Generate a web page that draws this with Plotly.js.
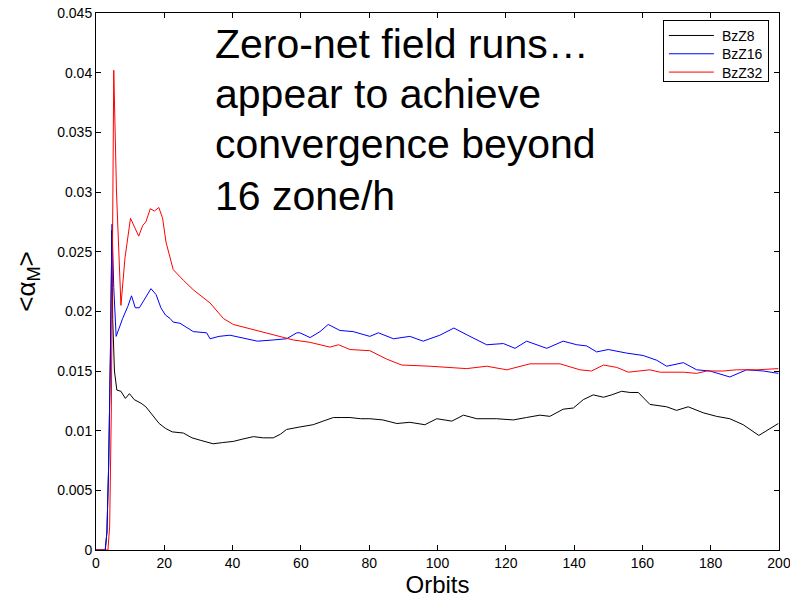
<!DOCTYPE html>
<html>
<head>
<meta charset="utf-8">
<script src="https://cdn.plot.ly/plotly-3.0.1.min.js"></script>
<style>
  html, body { margin: 0; padding: 0; background: #fff; }
  #chart { width: 790px; height: 602px; }
</style>
</head>
<body>
<div id="chart"></div>
<script>
// Volume-averaged Maxwell stress <alpha_M> vs. time (orbits) for three resolutions.
const seriesNames = ['BzZ8', 'BzZ16', 'BzZ32'];
const seriesColors = ['#000000', '#0000ff', '#ff0000'];

const bzz8Orbits = [0, 2.7, 3.2, 3.7, 4.2, 4.65, 4.9, 5.4, 6.1, 7.3, 8.6, 9.8, 11.2, 13.2, 14.6, 16.6, 18.5, 20.3, 22.3, 25.6, 28.1, 30.5, 34.3, 37.0, 40.2, 43.0, 46.1, 49.0, 51.9, 54.0, 55.8, 59.5, 63.6, 66.5, 69.5, 72.0, 74.4, 77.5, 80.2, 84.0, 88.1, 91.9, 96.3, 99.8, 104.2, 107.6, 111.5, 117.3, 122.2, 126.0, 130.0, 132.9, 136.8, 139.8, 142.7, 145.6, 148.6, 151.0, 153.9, 156.4, 158.8, 162.2, 167.1, 170.0, 173.4, 177.8, 181.7, 185.6, 189.5, 194.1, 197.4, 199.8];
const bzz8Alpha = [0, 0, 0.0015, 0.007, 0.016, 0.0268, 0.0193, 0.015, 0.0134, 0.0133, 0.0127, 0.0131, 0.0126, 0.0123, 0.0120, 0.0113, 0.0106, 0.0102, 0.0099, 0.0098, 0.0094, 0.0092, 0.0089, 0.0090, 0.0091, 0.0093, 0.0095, 0.0094, 0.0094, 0.0097, 0.0101, 0.0103, 0.0105, 0.0108, 0.0111, 0.0111, 0.0111, 0.0110, 0.0110, 0.0109, 0.0106, 0.0107, 0.0105, 0.0110, 0.0108, 0.0113, 0.0110, 0.0110, 0.0109, 0.0111, 0.0113, 0.0112, 0.0118, 0.0119, 0.0126, 0.0130, 0.0128, 0.0130, 0.0133, 0.0132, 0.0132, 0.0122, 0.0120, 0.0117, 0.0120, 0.0115, 0.0112, 0.0110, 0.0105, 0.0096, 0.0102, 0.0106];

const bzz16Orbits = [0, 2.7, 3.2, 3.7, 4.2, 4.7, 5.2, 5.9, 7.8, 9.3, 10.4, 11.5, 12.7, 14.1, 16.1, 17.6, 19.0, 20.3, 21.7, 22.6, 24.6, 28.5, 32.4, 33.4, 36.0, 39.2, 44.1, 47.3, 51.9, 55.8, 58.8, 59.7, 62.7, 65.6, 68.0, 71.4, 75.3, 80.2, 82.7, 87.1, 91.9, 95.8, 100.7, 104.8, 109.5, 114.4, 119.3, 122.7, 126.1, 132.0, 136.8, 140.8, 143.7, 146.6, 150.0, 155.4, 160.2, 164.2, 167.1, 172.0, 175.9, 179.8, 185.6, 190.5, 195.4, 199.8];
const bzz16Alpha = [0, 0, 0.0015, 0.007, 0.016, 0.0273, 0.022, 0.0179, 0.0194, 0.0204, 0.0213, 0.0203, 0.0203, 0.0210, 0.0219, 0.0214, 0.0203, 0.0197, 0.0194, 0.0191, 0.0190, 0.0183, 0.0182, 0.0177, 0.0179, 0.0180, 0.0177, 0.0175, 0.0176, 0.0177, 0.0182, 0.0182, 0.0178, 0.0183, 0.0189, 0.0184, 0.0183, 0.0179, 0.0182, 0.0177, 0.0179, 0.0175, 0.0180, 0.0186, 0.0179, 0.0172, 0.0173, 0.0169, 0.0175, 0.0169, 0.0175, 0.0172, 0.0171, 0.0166, 0.0168, 0.0165, 0.0163, 0.0159, 0.0154, 0.0157, 0.0151, 0.0150, 0.0145, 0.0151, 0.0150, 0.0148];

const bzz32Orbits = [0, 3.5, 4.0, 4.5, 5.2, 6.0, 7.3, 8.5, 10.1, 12.5, 13.7, 14.6, 15.9, 17.1, 18.4, 19.5, 20.5, 22.6, 25.6, 28.5, 33.4, 37.3, 40.2, 47.0, 52.9, 57.8, 62.7, 68.5, 71.0, 74.4, 80.2, 85.1, 89.5, 97.8, 108.5, 114.4, 120.3, 127.1, 135.9, 141.7, 145.1, 148.6, 152.5, 155.9, 162.2, 165.2, 172.0, 175.9, 178.8, 183.6, 187.6, 193.5, 199.8];
const bzz32Alpha = [0, 0, 0.002, 0.012, 0.0402, 0.030, 0.0205, 0.0245, 0.0278, 0.0263, 0.0272, 0.0275, 0.0286, 0.0284, 0.0287, 0.0278, 0.0258, 0.0235, 0.0226, 0.0218, 0.0207, 0.0194, 0.0189, 0.0184, 0.0180, 0.0176, 0.0174, 0.0170, 0.0172, 0.0168, 0.0167, 0.0160, 0.0155, 0.0154, 0.0152, 0.0154, 0.0151, 0.0156, 0.0156, 0.0151, 0.0150, 0.0155, 0.0153, 0.0149, 0.0151, 0.0149, 0.0149, 0.0148, 0.0150, 0.0150, 0.0151, 0.0151, 0.0152];

const xTickVals = [0, 20, 40, 60, 80, 100, 120, 140, 160, 180, 200];
const xTickText = ['0', '20', '40', '60', '80', '100', '120', '140', '160', '180', '200'];
const yTickVals = [0, 0.005, 0.01, 0.015, 0.02, 0.025, 0.03, 0.035, 0.04, 0.045];
const yTickText = ['0', '0.005', '0.01', '0.015', '0.02', '0.025', '0.03', '0.035', '0.04', '0.045'];

const noteLines = ['Zero-net field runs…', 'appear to achieve', 'convergence beyond', '16 zone/h'];

const xs = [bzz8Orbits, bzz16Orbits, bzz32Orbits];
const ys = [bzz8Alpha, bzz16Alpha, bzz32Alpha];

const traces = seriesNames.map((name, i) => ({
  type: 'scatter',
  mode: 'lines',
  name: name,
  x: xs[i],
  y: ys[i],
  line: { color: seriesColors[i], width: 1 }
}));

const FONT = 'Liberation Sans, Arial, Helvetica, sans-serif';

const axisBase = {
  showgrid: false,
  zeroline: false,
  showline: true,
  linecolor: '#000',
  linewidth: 1,
  mirror: 'allticks',
  ticks: 'inside',
  ticklen: 5,
  tickcolor: '#000',
  ticklabeloverflow: 'allow',
  tickfont: { family: FONT, size: 14, color: '#000' }
};

// the note is set line by line so the leading can be tighter than the default
const noteTop = [0.9417, 0.8486, 0.7555, 0.6592];
const annotations = noteLines.map((t, i) => ({
  xref: 'paper', yref: 'paper',
  x: 0.171, y: noteTop[i], xanchor: 'left', yanchor: 'middle',
  align: 'left', showarrow: false,
  text: t,
  font: { family: FONT, size: 41, color: '#000' }
}));

const layout = {
  width: 790,
  height: 602,
  margin: { l: 96, r: 11, t: 13, b: 52 },
  paper_bgcolor: '#fff',
  plot_bgcolor: '#fff',
  showlegend: true,
  legend: {
    x: 0.83, y: 0.987, xanchor: 'left', yanchor: 'top',
    bgcolor: '#fff', bordercolor: '#000', borderwidth: 1,
    font: { family: FONT, size: 14, color: '#000' },
    tracegroupgap: 0, itemwidth: 48
  },
  xaxis: Object.assign({}, axisBase, {
    range: [0, 200],
    tickmode: 'array', tickvals: xTickVals, ticktext: xTickText,
    title: { text: 'Orbits', font: { family: FONT, size: 24, color: '#000' }, standoff: 5 }
  }),
  yaxis: Object.assign({}, axisBase, {
    range: [0, 0.045],
    tickmode: 'array', tickvals: yTickVals, ticktext: yTickText,
    title: { text: '&lt;α<sub>M</sub>&gt;', font: { family: FONT, size: 26, color: '#000' }, standoff: 14 }
  }),
  annotations: annotations
};

Plotly.newPlot('chart', traces, layout, { staticPlot: true, displayModeBar: false }).then(gd => {
  // longer line samples and tighter rows in the legend box
  gd.querySelectorAll('.legend .legendlines path').forEach(p => p.setAttribute('d', 'M5,0h45'));
  const rowGap = 18.3, firstRow = 15.5;
  gd.querySelectorAll('.legend .traces').forEach((g, i) => {
    const m = /translate\(\s*([-\d.]+)/.exec(g.getAttribute('transform') || '');
    const tx = m ? m[1] : 1;
    g.setAttribute('transform', 'translate(' + tx + ',' + (firstRow + i * rowGap) + ')');
  });
  const bg = gd.querySelector('.legend .bg');
  if (bg) bg.setAttribute('height', '61');
});
</script>
</body>
</html>
